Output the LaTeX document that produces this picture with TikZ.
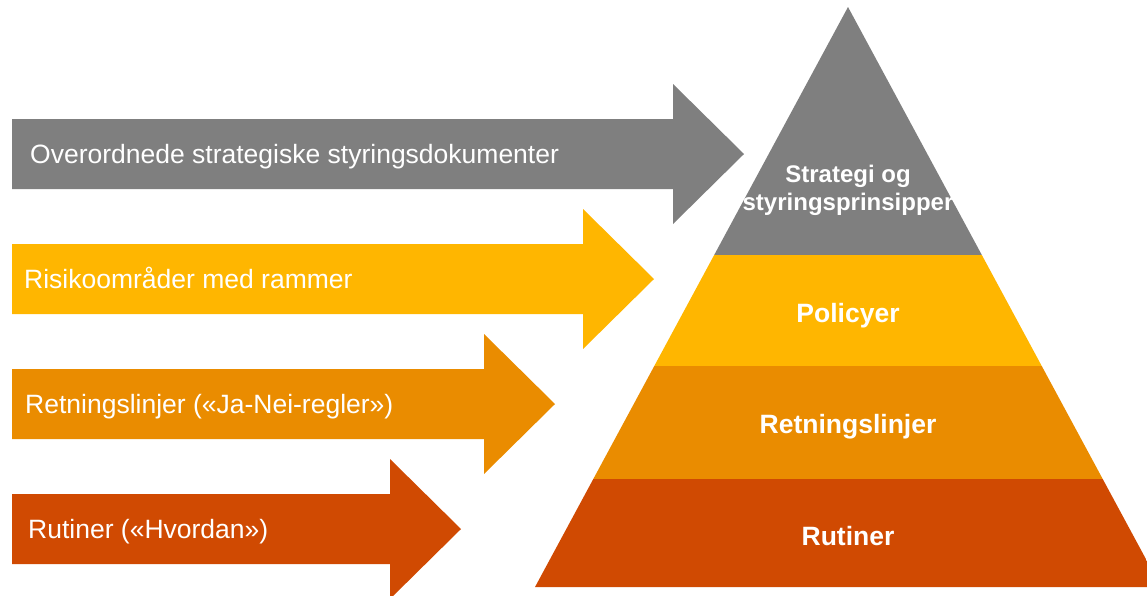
\documentclass[tikz,border=0pt]{standalone}
\usepackage{fontspec}
\setmainfont{Liberation Sans}
\definecolor{pwcgray}{HTML}{7F7F7F}
\definecolor{pwcyellow}{HTML}{FFB600}
\definecolor{pwctang}{HTML}{EA8C00}
\definecolor{pwcorange}{HTML}{D04A02}

\begin{document}
\begin{tikzpicture}[x=1pt, y=-1pt,
    lbl/.style={text=white, anchor=base west, inner sep=0pt,
      font=\fontsize{26.5}{32}\selectfont},
    lvl/.style={text=white, align=center, inner sep=0pt,
      font=\bfseries\fontsize{24}{28}\selectfont},
    lvlbig/.style={lvl, anchor=base,
      font=\bfseries\fontsize{26.5}{32}\selectfont}]
    % frame
    \clip (0,0) rectangle (1147,595);
    % main coordinates
    \coordinate (apex)   at (848,7);
    \coordinate (base-l) at (535,587);
    \coordinate (base-r) at (1161,587);
    % draw pyramid layers
    \begin{scope}
    \clip (apex) -- (base-l) -- (base-r) -- cycle;
    \fill [pwcgray]   (500,0)   rectangle (1200,255);
    \fill [pwcyellow] (500,255) rectangle (1200,366);
    \fill [pwctang]   (500,366) rectangle (1200,479);
    \fill [pwcorange] (500,479) rectangle (1200,600);
    \end{scope}
    % pyramid labels
    \node[lvl] (lvl-strategi) at (848,190) {Strategi og\\styringsprinsipper};
    \node[lvlbig] (lvl-policy) at (848,322) {Policyer};
    \node[lvlbig] (lvl-retning) at (848,433) {Retningslinjer};
    \node[lvlbig] (lvl-rutine) at (848,545) {Rutiner};
    % draw arrows
    \foreach \col/\yc/\xh/\xl/\nm/\txt in {
      pwcgray/154/673/30/strategi/{Overordnede strategiske styringsdokumenter},
      pwcyellow/279/583/24/risiko/{Risikoområder med rammer},
      pwctang/404/484/25/retning/{Retningslinjer («Ja-Nei-regler»)},
      pwcorange/529/390/28/rutine/{Rutiner («Hvordan»)}}
    {
      \fill [\col] (12,\yc-35) -- (\xh,\yc-35) -- (\xh,\yc-70) --
        (\xh+71,\yc) -- (\xh,\yc+70) -- (\xh,\yc+35) -- (12,\yc+35) -- cycle;
      \node[lbl] (arrow-\nm) at (\xl,\yc+9.5) {\txt};
    }
\end{tikzpicture}
\end{document}
